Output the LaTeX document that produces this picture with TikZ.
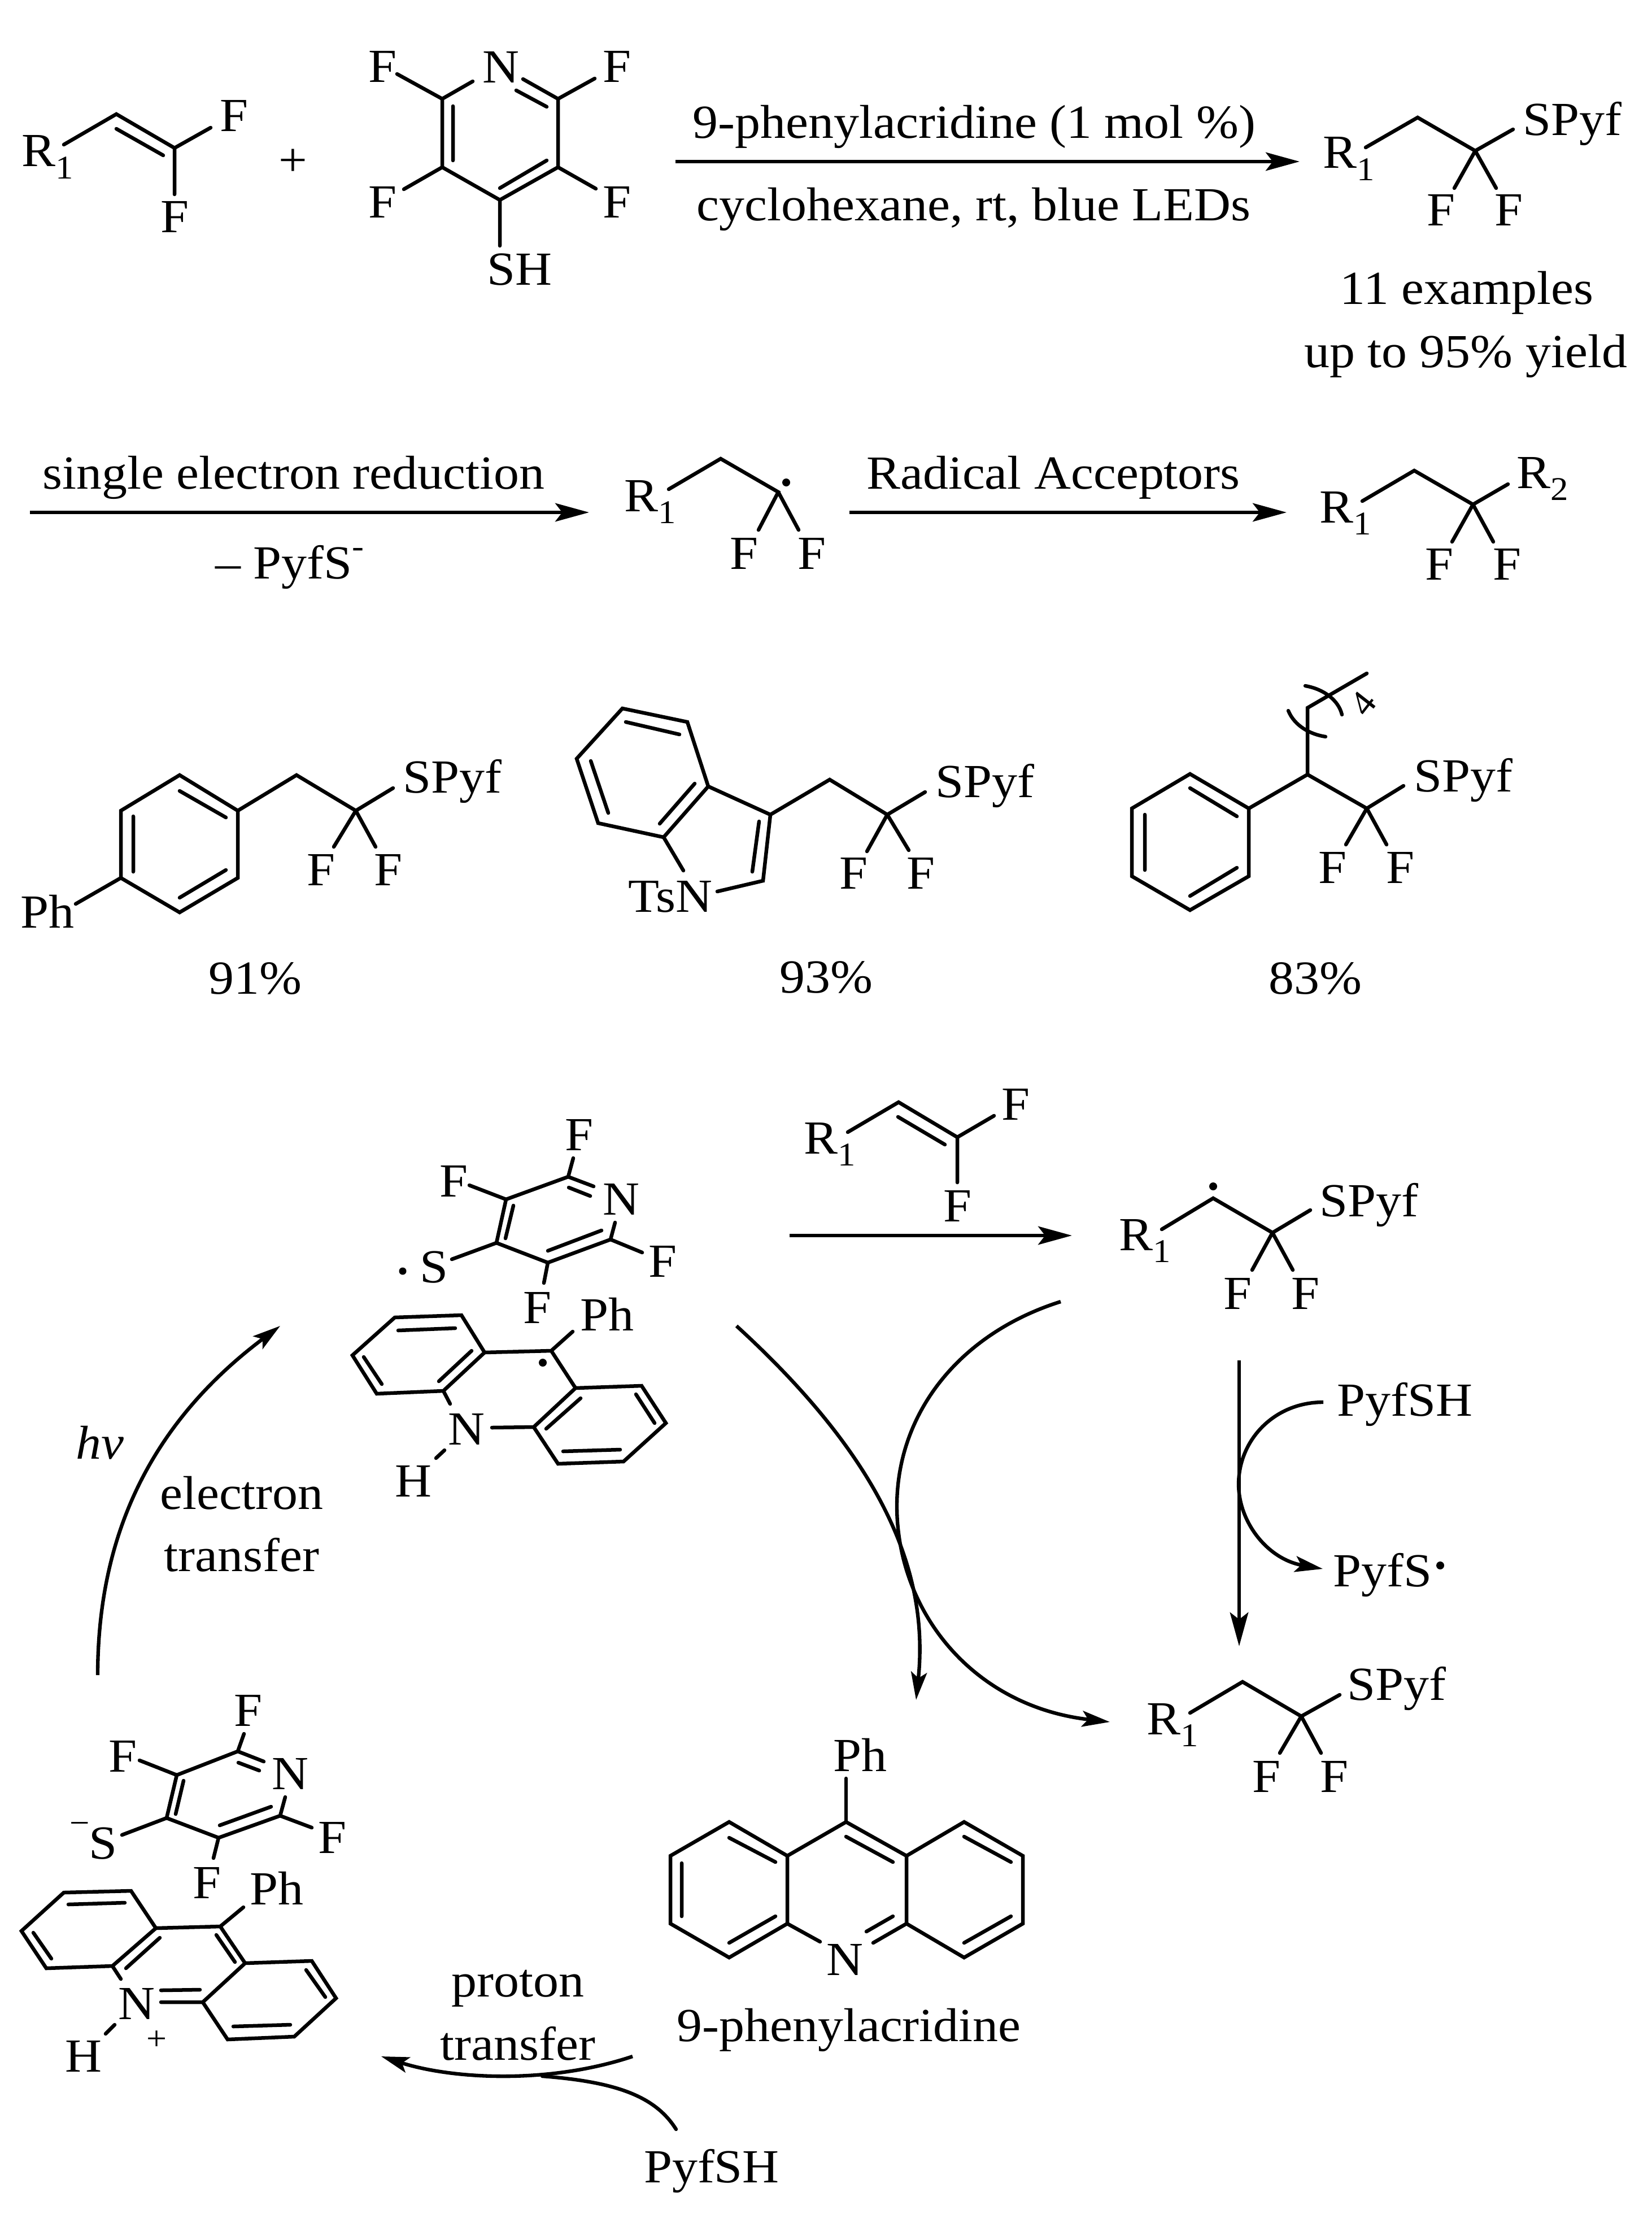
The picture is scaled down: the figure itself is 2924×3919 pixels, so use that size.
\documentclass[tikz,border=0pt]{standalone}
\usepackage{fontspec}
\setmainfont[FakeStretch=1.07]{Liberation Serif}
\usetikzlibrary{arrows.meta}
\newcommand\lowsub[1]{\lower 0.25em\hbox{\fontsize{16.7}{17}\selectfont #1}}
\tikzset{
  bond/.style={line width=1.85pt,line cap=round,line join=miter,black},
  rxn/.style={line width=1.95pt,-{Stealth[length=17pt,width=9.2pt,inset=3.5pt]},black},
  curv/.style={line width=1.8pt,line cap=round,black},
  curvarrow/.style={line width=1.8pt,-{Stealth[length=14pt,width=8pt,inset=3pt]},black},
  lbl/.style={anchor=base,inner sep=0pt,font=\fontsize{23.9}{28}\selectfont},
  lblw/.style={anchor=base west,inner sep=0pt,font=\fontsize{23.9}{28}\selectfont},
}
\begin{document}
\begin{tikzpicture}[x=0.01cm,y=-0.01cm]
\useasboundingbox (0,0) rectangle (2924,3919);
% --- top: vinyl
\node[lblw] (r1a) at (38,295) {R\lowsub{1}};
\node[lbl] (fa1) at (415,233) {F};
\node[lbl] (fa2) at (310,412) {F};
\draw[bond] (113,256)--(206,202)--(309,262)--(373,226) (309,262)--(309,344) (206,228)--(289,275);
\node[lbl] (plus) at (519,312) {+};
% --- pyridine thiol
\node[lbl] (na) at (887,147) {N};
\node[lbl] (fb1) at (677,146) {F};
\node[lbl] (fb2) at (1092,146) {F};
\node[lbl] (fb3) at (677,386) {F};
\node[lbl] (fb4) at (1092,386) {F};
\node[lbl] (sh) at (920,505) {SH};
\draw[bond] (837,144)--(783,175)--(783,296)--(885,354)--(988,296)--(988,175)--(926,140);
\draw[bond] (914,160)--(968,189) (802,188)--(802,284) (885,333)--(968,284);
\draw[bond] (783,175)--(703,131) (988,175)--(1053,139) (783,296)--(715,335) (988,296)--(1055,334) (885,354)--(885,435);
% --- arrow 1
\coordinate (a1s) at (1196,286); \coordinate (a1e) at (2301,286);
\draw[rxn] (a1s)--(a1e);
\node[lbl] (t1) at (1725,245) {9-phenylacridine (1 mol \%)};
\node[lbl] (t2) at (1724,391) {cyclohexane, rt, blue LEDs};
% --- product 1
\node[lblw] (r1b) at (2342,298) {R\lowsub{1}};
\node[lblw] (spb) at (2696,240) {SPyf};
\node[lbl] (fc1) at (2551,400) {F};
\node[lbl] (fc2) at (2671,400) {F};
\draw[bond] (2418,261)--(2510,208)--(2612,267)--(2679,229) (2612,267)--(2575,333) (2612,267)--(2649,333);
\node[lbl] (ex1) at (2597,539) {11 examples};
\node[lbl] (ex2) at (2595,651) {up to 95\% yield};
% --- row 2
\coordinate (a2s) at (53,907); \coordinate (a2e) at (1043,907);
\draw[rxn] (a2s)--(a2e);
\node[lbl] (t3) at (520,866) {single electron reduction};
\node[lbl] (t4) at (513,1024) {– PyfS\raisebox{0.45em}{\fontsize{16.7}{17}\selectfont -}};
\node[lblw] (r1c) at (1105,905) {R\lowsub{1}};
\node[lbl] (fd1) at (1317,1007) {F};
\node[lbl] (fd2) at (1437,1007) {F};
\draw[bond] (1184,866)--(1276,812)--(1378,871)--(1343,938) (1378,871)--(1414,938);
\fill (1392,854) circle (7);
\coordinate (a3s) at (1504,907); \coordinate (a3e) at (2278,907);
\draw[rxn] (a3s)--(a3e);
\node[lbl] (t5) at (1865,865) {Radical Acceptors};
\node[lblw] (r1d) at (2336,925) {R\lowsub{1}};
\node[lblw] (r2d) at (2685,864) {R\lowsub{2}};
\node[lbl] (fe1) at (2548,1026) {F};
\node[lbl] (fe2) at (2668,1026) {F};
\draw[bond] (2412,887)--(2504,833)--(2608,893)--(2670,857) (2608,893)--(2571,959) (2608,893)--(2644,959);
% --- biphenyl example
\draw[bond] (318,1372)--(421,1435)--(421,1554)--(318,1615)--(214,1554)--(214,1435)--cycle;
\draw[bond] (318,1400)--(400,1447) (236,1445)--(236,1543) (318,1589)--(400,1540);
\draw[bond] (421,1435)--(525,1372)--(630,1435)--(696,1395) (630,1435)--(591,1499) (630,1435)--(665,1499) (214,1554)--(134,1600);
\node[lblw] (spf1) at (713,1403) {SPyf};
\node[lbl] (ff1) at (568,1567) {F};
\node[lbl] (ff2) at (687,1567) {F};
\node[lbl] (ph1) at (84,1642) {Ph};
\node[lbl] (y1) at (452,1759) {91\%};
% --- indole example
\draw[bond] (1102,1254)--(1217,1278)--(1254,1392)--(1175,1482)--(1059,1457)--(1021,1343)--cycle;
\draw[bond] (1108,1278)--(1203,1300) (1230,1387)--(1168,1458) (1046,1347)--(1077,1439);
\draw[bond] (1254,1392)--(1364,1442)--(1351,1559)--(1270,1578) (1344,1454)--(1332,1543) (1175,1482)--(1210,1541);
\draw[bond] (1364,1442)--(1469,1380)--(1571,1442)--(1638,1402) (1571,1442)--(1535,1507) (1571,1442)--(1609,1505);
\node[lbl] (tsn) at (1187,1614) {TsN};
\node[lblw] (spf2) at (1656,1411) {SPyf};
\node[lbl] (fg1) at (1511,1573) {F};
\node[lbl] (fg2) at (1630,1573) {F};
\node[lbl] (y2) at (1463,1757) {93\%};
% --- phenyl chain example
\draw[bond] (2107,1370)--(2211,1431)--(2211,1551)--(2107,1611)--(2004,1551)--(2004,1431)--cycle;
\draw[bond] (2107,1395)--(2190,1445) (2027,1442)--(2027,1540) (2107,1586)--(2190,1536);
\draw[bond] (2211,1431)--(2315,1371)--(2420,1431)--(2485,1391) (2420,1431)--(2383,1495) (2420,1431)--(2455,1495);
\draw[bond] (2315,1371)--(2315,1253)--(2420,1192);
\draw[curv] (2281,1258) .. controls (2292,1285) and (2320,1300) .. (2347,1304);
\draw[curv] (2311,1214) .. controls (2345,1220) and (2370,1240) .. (2376,1265);
\node[inner sep=0pt,rotate=52,font=\fontsize{18}{18}\selectfont] (four) at (2413,1245) {4};
\node[lblw] (spf3) at (2503,1401) {SPyf};
\node[lbl] (fh1) at (2359,1563) {F};
\node[lbl] (fh2) at (2479,1563) {F};
\node[lbl] (y3) at (2329,1759) {83\%};
% --- cycle: pyridyl radical
\node[lbl] (ni) at (1100,2150) {N};
\node[lbl] (fi1) at (1025,2036) {F};
\node[lbl] (fi2) at (803,2118) {F};
\node[lbl] (fi3) at (1173,2260) {F};
\node[lbl] (fi4) at (951,2342) {F};
\node[lbl] (si) at (768,2270) {S};
\fill (713,2250) circle (6.5);
\draw[bond] (1051,2100)--(1006,2083)--(896,2123)--(879,2200)--(970,2235)--(1081,2194)--(1089,2164);
\draw[bond] (1007,2102)--(1045,2117) (909,2134)--(895,2192) (970,2214)--(1065,2178);
\draw[bond] (1006,2083)--(1015,2050) (896,2123)--(831,2098) (1081,2194)--(1137,2217) (970,2235)--(963,2271) (879,2200)--(800,2229);
% --- acridinyl radical
\draw[bond] (785,2462)--(667,2467)--(624,2399)--(699,2332)--(817,2328)--(858,2394)--cycle;
\draw[bond] (705,2355)--(806,2351) (835,2391)--(777,2445) (644,2402)--(676,2450);
\draw[bond] (858,2394)--(976,2391)--(1019,2457) (976,2391)--(1014,2357);
\draw[bond] (1019,2457)--(1136,2453)--(1179,2519)--(1104,2587)--(988,2591)--(945,2526)--cycle;
\draw[bond] (1126,2468)--(1159,2519) (1098,2566)--(997,2569) (967,2529)--(1028,2475);
\draw[bond] (785,2462)--(797,2485) (945,2526)--(871,2527) (787,2567)--(772,2581);
\node[lbl] (phi) at (1075,2355) {Ph};
\node[lbl] (nj) at (826,2557) {N};
\node[lbl] (hj) at (732,2649) {H};
\fill (961,2412) circle (7);
% --- vinyl on arrow
\coordinate (a4s) at (1398,2187); \coordinate (a4e) at (1898,2187);
\draw[rxn] (a4s)--(a4e);
\draw[bond] (1501,2004)--(1591,1951)--(1695,2013)--(1760,1975) (1695,2013)--(1695,2093) (1590,1977)--(1673,2026);
\node[lblw] (r1k) at (1423,2042) {R\lowsub{1}};
\node[lbl] (fk1) at (1798,1982) {F};
\node[lbl] (fk2) at (1695,2162) {F};
% --- radical intermediate
\draw[bond] (2057,2176)--(2148,2121)--(2253,2182)--(2320,2142) (2253,2182)--(2217,2248) (2253,2182)--(2289,2248);
\fill (2148,2100) circle (7);
\node[lblw] (r1m) at (1981,2213) {R\lowsub{1}};
\node[lblw] (spm) at (2336,2153) {SPyf};
\node[lbl] (fm1) at (2191,2317) {F};
\node[lbl] (fm2) at (2311,2317) {F};
% --- down arrow with PyfSH in / PyfS out
\coordinate (a5s) at (2194,2408); \coordinate (a5e) at (2194,2914);
\draw[rxn] (a5s)--(a5e);
\node[lblw] (pyh) at (2367,2506) {PyfSH};
\node[lblw] (pys) at (2360,2808) {PyfS};
\fill (2550,2771) circle (7);
\coordinate (c1s) at (2343,2482); \coordinate (c1m) at (2193,2627); \coordinate (c1e) at (2342,2777);
\draw[curvarrow] (c1s) .. controls (2255,2482) and (2193,2550) .. (c1m) .. controls (2193,2695) and (2245,2760) .. (c1e);
% --- big curves
\coordinate (c2s) at (1304,2347); \coordinate (c2e) at (1622,3009);
\draw[curvarrow] (c2s) .. controls (1570,2590) and (1645,2790) .. (c2e);
\coordinate (c3s) at (1878,2304); \coordinate (c3m) at (1588,2666); \coordinate (c3e) at (1965,3048);
\draw[curvarrow] (c3s) .. controls (1700,2360) and (1588,2500) .. (c3m) .. controls (1588,2850) and (1720,3020) .. (c3e);
% --- electron transfer arrow
\coordinate (c4s) at (173,2965); \coordinate (c4e) at (496,2347);
\draw[curvarrow] (c4s) .. controls (173,2720) and (265,2520) .. (c4e);
\node[lbl] (hv) at (177,2582) {\textit{hv}};
\node[lbl] (et1) at (428,2671) {electron};
\node[lbl] (et2) at (428,2781) {transfer};
% --- bottom-left complex: thiolate
\node[lbl] (nn) at (514,3167) {N};
\node[lbl] (fn1) at (440,3055) {F};
\node[lbl] (fn2) at (218,3136) {F};
\node[lbl] (fn3) at (588,3280) {F};
\node[lbl] (fn4) at (367,3360) {F};
\node[lbl] (sn) at (183,3290) {S};
\node[lbl,font=\fontsize{16.7}{17}\selectfont] (minus) at (141,3246) {−};
\draw[bond] (467,3118)--(421,3100)--(313,3142)--(295,3218)--(387,3253)--(496,3214)--(505,3181);
\draw[bond] (422,3120)--(459,3134) (325,3152)--(311,3211) (389,3231)--(480,3198);
\draw[bond] (421,3100)--(432,3069) (313,3142)--(247,3116) (496,3214)--(552,3235) (387,3253)--(378,3289) (295,3218)--(216,3248);
% --- acridinium
\draw[bond] (199,3480)--(82,3484)--(38,3418)--(113,3350)--(232,3347)--(276,3413)--cycle;
\draw[bond] (121,3371)--(221,3368) (283,3430)--(223,3484) (59,3421)--(91,3467);
\draw[bond] (276,3413)--(390,3410)--(434,3475) (383,3425)--(416,3473) (390,3410)--(431,3376);
\draw[bond] (434,3475)--(552,3471)--(595,3537)--(521,3605)--(403,3610)--(359,3544)--cycle;
\draw[bond] (542,3487)--(576,3535) (514,3584)--(413,3587);
\draw[bond] (199,3480)--(214,3503) (285,3544)--(359,3544) (285,3523)--(354,3522) (203,3584)--(187,3600);
\node[lbl] (phn) at (490,3371) {Ph};
\node[lbl] (nq) at (242,3574) {N};
\node[lbl] (hq) at (148,3667) {H};
\node[lbl,font=\fontsize{17}{18}\selectfont] (pl) at (278,3628) {+};
% --- proton transfer
\coordinate (c5s) at (1120,3640); \coordinate (c5e) at (675,3640);
\draw[curvarrow] (c5s) .. controls (970,3690) and (800,3680) .. (c5e);
\coordinate (c6s) at (1197,3769); \coordinate (c6e) at (960,3675);
\draw[curv] (c6s) .. controls (1160,3710) and (1090,3685) .. (c6e);
\node[lbl] (pt1) at (917,3534) {proton};
\node[lbl] (pt2) at (917,3646) {transfer};
\node[lbl] (pyhb) at (1260,3863) {PyfSH};
% --- 9-phenylacridine
\draw[bond] (1498,3225)--(1394,3285)--(1394,3405)--(1452,3437);
\draw[bond] (1394,3285)--(1291,3225)--(1187,3285)--(1187,3405)--(1291,3465)--(1394,3405);
\draw[bond] (1498,3225)--(1605,3285)--(1605,3405)--(1546,3439);
\draw[bond] (1605,3285)--(1707,3225)--(1811,3285)--(1811,3405)--(1707,3465)--(1605,3405);
\draw[bond] (1581,3392)--(1534,3419) (1291,3253)--(1373,3296) (1207,3298)--(1207,3392) (1291,3439)--(1373,3392);
\draw[bond] (1498,3251)--(1581,3296) (1707,3251)--(1790,3296) (1790,3392)--(1707,3439);
\draw[bond] (1498,3225)--(1498,3148);
\node[lbl] (phz) at (1523,3135) {Ph};
\node[lbl] (nz) at (1496,3496) {N};
\node[lbl] (namez) at (1503,3613) {9-phenylacridine};
% --- last product
\draw[bond] (2107,3032)--(2200,2977)--(2304,3038)--(2372,3000) (2304,3038)--(2266,3103) (2304,3038)--(2339,3103);
\node[lblw] (r1p) at (2030,3070) {R\lowsub{1}};
\node[lblw] (spp) at (2385,3009) {SPyf};
\node[lbl] (fp1) at (2242,3172) {F};
\node[lbl] (fp2) at (2362,3172) {F};
\end{tikzpicture}
\end{document}
